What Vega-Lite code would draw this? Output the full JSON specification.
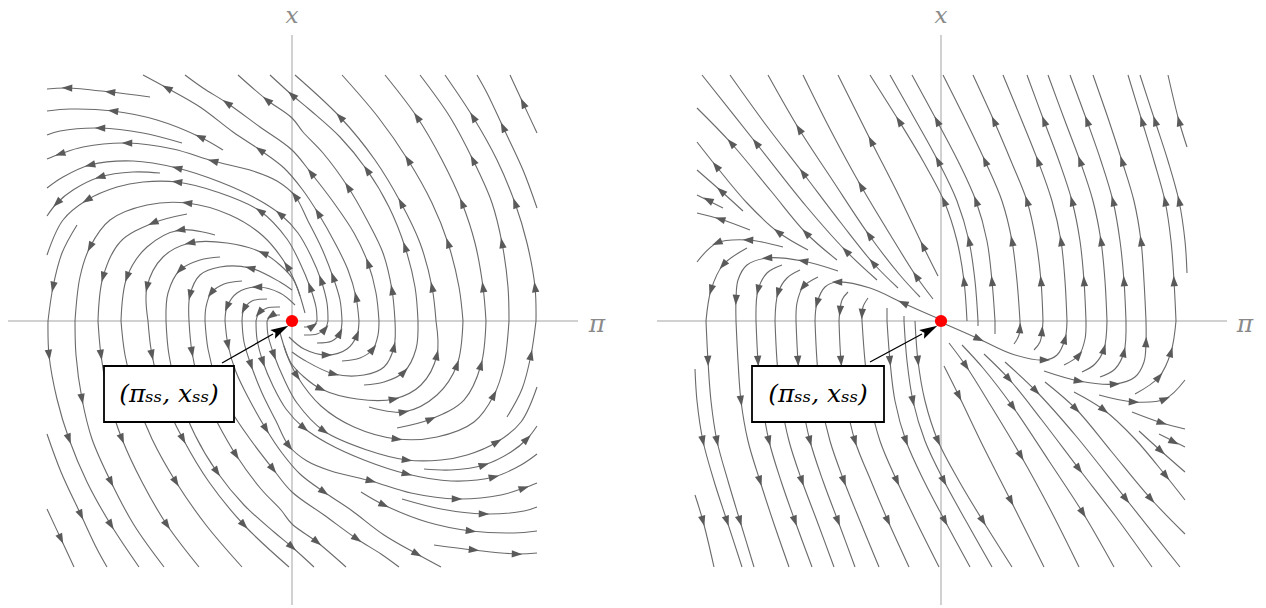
{
"$schema":"https://vega.github.io/schema/vega-lite/v6.json",
"padding":0,"spacing":0,"background":"white",
"config":{"view":{"stroke":null}},
"resolve":{"scale":{"x":"independent","y":"independent"}},
"datasets":{
"LL":[
{"c":1,"u":2.44,"v":0},{"c":1,"u":2.43,"v":0.34},{"c":1,"u":2.35,"v":0.78},{"c":1,"u":2.23,"v":1.18},{"c":1,"u":2.05,"v":1.61},{"c":1,"u":1.81,"v":2.04},{"c":1,"u":1.53,"v":2.46},
{"c":2,"u":2.17,"v":0},{"c":2,"u":2.16,"v":0.34},{"c":2,"u":2.10,"v":0.78},{"c":2,"u":2.00,"v":1.18},{"c":2,"u":1.81,"v":1.61},{"c":2,"u":1.58,"v":2.04},{"c":2,"u":1.28,"v":2.46},
{"c":3,"u":1.94,"v":0},{"c":3,"u":1.91,"v":0.34},{"c":3,"u":1.83,"v":0.78},{"c":3,"u":1.70,"v":1.18},{"c":3,"u":1.50,"v":1.61},{"c":3,"u":1.25,"v":2.04},{"c":3,"u":0.93,"v":2.46},
{"c":4,"u":1.71,"v":0},{"c":4,"u":1.67,"v":0.34},{"c":4,"u":1.56,"v":0.78},{"c":4,"u":1.40,"v":1.18},{"c":4,"u":1.16,"v":1.61},{"c":4,"u":0.86,"v":2.04},{"c":4,"u":0.50,"v":2.46},
{"c":5,"u":1.44,"v":0},{"c":5,"u":1.40,"v":0.34},{"c":5,"u":1.28,"v":0.78},{"c":5,"u":1.09,"v":1.18},{"c":5,"u":0.83,"v":1.61},{"c":5,"u":0.48,"v":2.04},{"c":5,"u":0.03,"v":2.46},
{"c":6,"u":2.45,"v":1.13},{"c":6,"u":2.31,"v":1.51},{"c":6,"u":2.11,"v":1.94},{"c":6,"u":1.95,"v":2.28},{"c":6,"u":1.85,"v":2.46},
{"c":7,"u":2.45,"v":1.88},{"c":7,"u":2.31,"v":2.18},{"c":7,"u":2.18,"v":2.46},
{"c":8,"u":1.26,"v":0},{"c":8,"u":1.23,"v":0.34},{"c":8,"u":1.13,"v":0.74},{"c":8,"u":0.97,"v":1.14},{"c":8,"u":0.75,"v":1.51},{"c":8,"u":0.48,"v":1.84},{"c":8,"u":0.18,"v":2.11},{"c":8,"u":0,"v":2.26},{"c":8,"u":-0.22,"v":2.46},
{"c":9,"u":1.03,"v":0},{"c":9,"u":1.00,"v":0.31},{"c":9,"u":0.91,"v":0.68},{"c":9,"u":0.75,"v":1.01},{"c":9,"u":0.56,"v":1.34},{"c":9,"u":0.31,"v":1.68},{"c":9,"u":0.11,"v":1.89},{"c":9,"u":0,"v":2.03},{"c":9,"u":-0.25,"v":2.21},{"c":9,"u":-0.54,"v":2.46},
{"c":10,"u":0.87,"v":0},{"c":10,"u":0.84,"v":0.28},{"c":10,"u":0.76,"v":0.58},{"c":10,"u":0.62,"v":0.88},{"c":10,"u":0.42,"v":1.18},{"c":10,"u":0.19,"v":1.48},{"c":10,"u":0,"v":1.71},{"c":10,"u":-0.32,"v":1.94},{"c":10,"u":-0.65,"v":2.18},{"c":10,"u":-0.89,"v":2.33},{"c":10,"u":-1.07,"v":2.46},
{"c":11,"u":0.67,"v":0},{"c":11,"u":0.64,"v":0.24},{"c":11,"u":0.56,"v":0.51},{"c":11,"u":0.43,"v":0.78},{"c":11,"u":0.26,"v":1.08},{"c":11,"u":0.10,"v":1.32},{"c":11,"u":-0.08,"v":1.53},{"c":11,"u":-0.32,"v":1.71},{"c":11,"u":-0.59,"v":1.89},{"c":11,"u":-0.92,"v":2.14},{"c":11,"u":-1.25,"v":2.33},{"c":11,"u":-1.49,"v":2.46},
{"c":12,"u":0.50,"v":0},{"c":12,"u":0.48,"v":0.21},{"c":12,"u":0.41,"v":0.44},{"c":12,"u":0.30,"v":0.72},{"c":12,"u":0.16,"v":1.00},{"c":12,"u":0.03,"v":1.25},{"c":12,"u":-0.15,"v":1.40},{"c":12,"u":-0.39,"v":1.50},{"c":12,"u":-0.79,"v":1.60},{"c":12,"u":-1.19,"v":1.72},{"c":12,"u":-1.65,"v":1.78},{"c":12,"u":-2.09,"v":1.74},{"c":12,"u":-2.32,"v":1.67},{"c":12,"u":-2.45,"v":1.62},
{"c":13,"u":0.36,"v":0},{"c":13,"u":0.35,"v":0.18},{"c":13,"u":0.29,"v":0.41},{"c":13,"u":0.19,"v":0.65},{"c":13,"u":0.06,"v":0.88},{"c":13,"u":-0.12,"v":1.07},{"c":13,"u":-0.35,"v":1.22},{"c":13,"u":-0.72,"v":1.39},{"c":13,"u":-1.15,"v":1.53},{"c":13,"u":-1.59,"v":1.60},{"c":13,"u":-2.02,"v":1.56},{"c":13,"u":-2.29,"v":1.44},{"c":13,"u":-2.45,"v":1.33},
{"c":14,"u":0.25,"v":0},{"c":14,"u":0.24,"v":0.14},{"c":14,"u":0.18,"v":0.34},{"c":14,"u":0.08,"v":0.58},{"c":14,"u":-0.05,"v":0.82},{"c":14,"u":-0.32,"v":1.10},{"c":14,"u":-0.75,"v":1.29},{"c":14,"u":-1.15,"v":1.39},{"c":14,"u":-1.49,"v":1.39},{"c":14,"u":-1.75,"v":1.34},{"c":14,"u":-2.05,"v":1.21},{"c":14,"u":-2.29,"v":1.01},{"c":14,"u":-2.45,"v":0.66},
{"c":15,"u":0.13,"v":0.08},{"c":15,"u":0.05,"v":0.34},{"c":15,"u":-0.05,"v":0.55},{"c":15,"u":-0.29,"v":0.85},{"c":15,"u":-0.62,"v":1.06},{"c":15,"u":-1.05,"v":1.18},{"c":15,"u":-1.45,"v":1.16},{"c":15,"u":-1.82,"v":1.01},{"c":15,"u":-2.02,"v":0.74},{"c":15,"u":-2.12,"v":0.44},{"c":15,"u":-2.17,"v":0},
{"c":16,"u":0.08,"v":0.25},{"c":16,"u":0.01,"v":0.42},{"c":16,"u":-0.12,"v":0.56},{"c":16,"u":-0.29,"v":0.68},{"c":16,"u":-0.65,"v":0.78},{"c":16,"u":-1.02,"v":0.78},{"c":16,"u":-1.29,"v":0.64},{"c":16,"u":-1.45,"v":0.34},{"c":16,"u":-1.44,"v":0},
{"c":17,"u":0,"v":0.31},{"c":17,"u":-0.12,"v":0.39},{"c":17,"u":-0.42,"v":0.53},{"c":17,"u":-0.72,"v":0.54},{"c":17,"u":-0.92,"v":0.46},{"c":17,"u":-1.02,"v":0.26},{"c":17,"u":-1.03,"v":0},
{"c":18,"u":-1.42,"v":2.24},{"c":18,"u":-1.82,"v":2.29},{"c":18,"u":-2.25,"v":2.33},{"c":18,"u":-2.45,"v":2.32},
{"c":19,"u":-0.69,"v":1.71},{"c":19,"u":-0.92,"v":1.84},{"c":19,"u":-1.35,"v":2.01},{"c":19,"u":-1.79,"v":2.10},{"c":19,"u":-2.22,"v":2.12},{"c":19,"u":-2.45,"v":2.10},
{"c":20,"u":-1.10,"v":1.78},{"c":20,"u":-1.49,"v":1.88},{"c":20,"u":-1.92,"v":1.93},{"c":20,"u":-2.32,"v":1.90},{"c":20,"u":-2.45,"v":1.86},
{"c":21,"u":-1.32,"v":1.48},{"c":21,"u":-1.59,"v":1.49},{"c":21,"u":-1.92,"v":1.44},{"c":21,"u":-2.19,"v":1.31},{"c":21,"u":-2.35,"v":1.18},{"c":21,"u":-2.45,"v":1.05},
{"c":22,"u":-2.15,"v":0.96},{"c":22,"u":-2.30,"v":0.68},{"c":22,"u":-2.39,"v":0.34},{"c":22,"u":-2.44,"v":0},
{"c":23,"u":-1.05,"v":1.07},{"c":23,"u":-1.39,"v":0.98},{"c":23,"u":-1.72,"v":0.79},{"c":23,"u":-1.89,"v":0.44},{"c":23,"u":-1.94,"v":0},
{"c":24,"u":-0.77,"v":0.86},{"c":24,"u":-1.12,"v":0.91},{"c":24,"u":-1.45,"v":0.74},{"c":24,"u":-1.65,"v":0.44},{"c":24,"u":-1.71,"v":0},
{"c":25,"u":-0.72,"v":0.64},{"c":25,"u":-0.92,"v":0.61},{"c":25,"u":-1.12,"v":0.51},{"c":25,"u":-1.24,"v":0.28},{"c":25,"u":-1.26,"v":0},
{"c":26,"u":-0.50,"v":0.40},{"c":26,"u":-0.68,"v":0.37},{"c":26,"u":-0.81,"v":0.28},{"c":26,"u":-0.86,"v":0.14},{"c":26,"u":-0.87,"v":0},
{"c":27,"u":0.03,"v":0.16},{"c":27,"u":-0.12,"v":0.28},{"c":27,"u":-0.35,"v":0.34},{"c":27,"u":-0.55,"v":0.28},{"c":27,"u":-0.65,"v":0.14},{"c":27,"u":-0.67,"v":0},
{"c":28,"u":-0.25,"v":0.22},{"c":28,"u":-0.40,"v":0.20},{"c":28,"u":-0.48,"v":0.12},{"c":28,"u":-0.50,"v":0},
{"c":29,"u":-0.12,"v":0.14},{"c":29,"u":-0.25,"v":0.13},{"c":29,"u":-0.33,"v":0.08},{"c":29,"u":-0.36,"v":0},
{"c":30,"u":-0.12,"v":0.06},{"c":30,"u":-0.21,"v":0.05},{"c":30,"u":-0.25,"v":0},
{"c":101,"u":-2.44,"v":0},{"c":101,"u":-2.43,"v":-0.34},{"c":101,"u":-2.35,"v":-0.78},{"c":101,"u":-2.23,"v":-1.18},{"c":101,"u":-2.05,"v":-1.61},{"c":101,"u":-1.81,"v":-2.04},{"c":101,"u":-1.53,"v":-2.46},
{"c":102,"u":-2.17,"v":0},{"c":102,"u":-2.16,"v":-0.34},{"c":102,"u":-2.10,"v":-0.78},{"c":102,"u":-2.00,"v":-1.18},{"c":102,"u":-1.81,"v":-1.61},{"c":102,"u":-1.58,"v":-2.04},{"c":102,"u":-1.28,"v":-2.46},
{"c":103,"u":-1.94,"v":0},{"c":103,"u":-1.91,"v":-0.34},{"c":103,"u":-1.83,"v":-0.78},{"c":103,"u":-1.70,"v":-1.18},{"c":103,"u":-1.50,"v":-1.61},{"c":103,"u":-1.25,"v":-2.04},{"c":103,"u":-0.93,"v":-2.46},
{"c":104,"u":-1.71,"v":0},{"c":104,"u":-1.67,"v":-0.34},{"c":104,"u":-1.56,"v":-0.78},{"c":104,"u":-1.40,"v":-1.18},{"c":104,"u":-1.16,"v":-1.61},{"c":104,"u":-0.86,"v":-2.04},{"c":104,"u":-0.50,"v":-2.46},
{"c":105,"u":-1.44,"v":0},{"c":105,"u":-1.40,"v":-0.34},{"c":105,"u":-1.28,"v":-0.78},{"c":105,"u":-1.09,"v":-1.18},{"c":105,"u":-0.83,"v":-1.61},{"c":105,"u":-0.48,"v":-2.04},{"c":105,"u":-0.03,"v":-2.46},
{"c":106,"u":-2.45,"v":-1.13},{"c":106,"u":-2.31,"v":-1.51},{"c":106,"u":-2.11,"v":-1.94},{"c":106,"u":-1.95,"v":-2.28},{"c":106,"u":-1.85,"v":-2.46},
{"c":107,"u":-2.45,"v":-1.88},{"c":107,"u":-2.31,"v":-2.18},{"c":107,"u":-2.18,"v":-2.46},
{"c":108,"u":-1.26,"v":0},{"c":108,"u":-1.23,"v":-0.34},{"c":108,"u":-1.13,"v":-0.74},{"c":108,"u":-0.97,"v":-1.14},{"c":108,"u":-0.75,"v":-1.51},{"c":108,"u":-0.48,"v":-1.84},{"c":108,"u":-0.18,"v":-2.11},{"c":108,"u":0,"v":-2.26},{"c":108,"u":0.22,"v":-2.46},
{"c":109,"u":-1.03,"v":0},{"c":109,"u":-1.00,"v":-0.31},{"c":109,"u":-0.91,"v":-0.68},{"c":109,"u":-0.75,"v":-1.01},{"c":109,"u":-0.56,"v":-1.34},{"c":109,"u":-0.31,"v":-1.68},{"c":109,"u":-0.11,"v":-1.89},{"c":109,"u":0,"v":-2.03},{"c":109,"u":0.25,"v":-2.21},{"c":109,"u":0.54,"v":-2.46},
{"c":110,"u":-0.87,"v":0},{"c":110,"u":-0.84,"v":-0.28},{"c":110,"u":-0.76,"v":-0.58},{"c":110,"u":-0.62,"v":-0.88},{"c":110,"u":-0.42,"v":-1.18},{"c":110,"u":-0.19,"v":-1.48},{"c":110,"u":0,"v":-1.71},{"c":110,"u":0.32,"v":-1.94},{"c":110,"u":0.65,"v":-2.18},{"c":110,"u":0.89,"v":-2.33},{"c":110,"u":1.07,"v":-2.46},
{"c":111,"u":-0.67,"v":0},{"c":111,"u":-0.64,"v":-0.24},{"c":111,"u":-0.56,"v":-0.51},{"c":111,"u":-0.43,"v":-0.78},{"c":111,"u":-0.26,"v":-1.08},{"c":111,"u":-0.10,"v":-1.32},{"c":111,"u":0.08,"v":-1.53},{"c":111,"u":0.32,"v":-1.71},{"c":111,"u":0.59,"v":-1.89},{"c":111,"u":0.92,"v":-2.14},{"c":111,"u":1.25,"v":-2.33},{"c":111,"u":1.49,"v":-2.46},
{"c":112,"u":-0.50,"v":0},{"c":112,"u":-0.48,"v":-0.21},{"c":112,"u":-0.41,"v":-0.44},{"c":112,"u":-0.30,"v":-0.72},{"c":112,"u":-0.16,"v":-1.00},{"c":112,"u":-0.03,"v":-1.25},{"c":112,"u":0.15,"v":-1.40},{"c":112,"u":0.39,"v":-1.50},{"c":112,"u":0.79,"v":-1.60},{"c":112,"u":1.19,"v":-1.72},{"c":112,"u":1.65,"v":-1.78},{"c":112,"u":2.09,"v":-1.74},{"c":112,"u":2.32,"v":-1.67},{"c":112,"u":2.45,"v":-1.62},
{"c":113,"u":-0.36,"v":0},{"c":113,"u":-0.35,"v":-0.18},{"c":113,"u":-0.29,"v":-0.41},{"c":113,"u":-0.19,"v":-0.65},{"c":113,"u":-0.06,"v":-0.88},{"c":113,"u":0.12,"v":-1.07},{"c":113,"u":0.35,"v":-1.22},{"c":113,"u":0.72,"v":-1.39},{"c":113,"u":1.15,"v":-1.53},{"c":113,"u":1.59,"v":-1.60},{"c":113,"u":2.02,"v":-1.56},{"c":113,"u":2.29,"v":-1.44},{"c":113,"u":2.45,"v":-1.33},
{"c":114,"u":-0.25,"v":0},{"c":114,"u":-0.24,"v":-0.14},{"c":114,"u":-0.18,"v":-0.34},{"c":114,"u":-0.08,"v":-0.58},{"c":114,"u":0.05,"v":-0.82},{"c":114,"u":0.32,"v":-1.10},{"c":114,"u":0.75,"v":-1.29},{"c":114,"u":1.15,"v":-1.39},{"c":114,"u":1.49,"v":-1.39},{"c":114,"u":1.75,"v":-1.34},{"c":114,"u":2.05,"v":-1.21},{"c":114,"u":2.29,"v":-1.01},{"c":114,"u":2.45,"v":-0.66},
{"c":115,"u":-0.13,"v":-0.08},{"c":115,"u":-0.05,"v":-0.34},{"c":115,"u":0.05,"v":-0.55},{"c":115,"u":0.29,"v":-0.85},{"c":115,"u":0.62,"v":-1.06},{"c":115,"u":1.05,"v":-1.18},{"c":115,"u":1.45,"v":-1.16},{"c":115,"u":1.82,"v":-1.01},{"c":115,"u":2.02,"v":-0.74},{"c":115,"u":2.12,"v":-0.44},{"c":115,"u":2.17,"v":0},
{"c":116,"u":-0.08,"v":-0.25},{"c":116,"u":-0.01,"v":-0.42},{"c":116,"u":0.12,"v":-0.56},{"c":116,"u":0.29,"v":-0.68},{"c":116,"u":0.65,"v":-0.78},{"c":116,"u":1.02,"v":-0.78},{"c":116,"u":1.29,"v":-0.64},{"c":116,"u":1.45,"v":-0.34},{"c":116,"u":1.44,"v":0},
{"c":117,"u":0,"v":-0.31},{"c":117,"u":0.12,"v":-0.39},{"c":117,"u":0.42,"v":-0.53},{"c":117,"u":0.72,"v":-0.54},{"c":117,"u":0.92,"v":-0.46},{"c":117,"u":1.02,"v":-0.26},{"c":117,"u":1.03,"v":0},
{"c":118,"u":1.42,"v":-2.24},{"c":118,"u":1.82,"v":-2.29},{"c":118,"u":2.25,"v":-2.33},{"c":118,"u":2.45,"v":-2.32},
{"c":119,"u":0.69,"v":-1.71},{"c":119,"u":0.92,"v":-1.84},{"c":119,"u":1.35,"v":-2.01},{"c":119,"u":1.79,"v":-2.10},{"c":119,"u":2.22,"v":-2.12},{"c":119,"u":2.45,"v":-2.10},
{"c":120,"u":1.10,"v":-1.78},{"c":120,"u":1.49,"v":-1.88},{"c":120,"u":1.92,"v":-1.93},{"c":120,"u":2.32,"v":-1.90},{"c":120,"u":2.45,"v":-1.86},
{"c":121,"u":1.32,"v":-1.48},{"c":121,"u":1.59,"v":-1.49},{"c":121,"u":1.92,"v":-1.44},{"c":121,"u":2.19,"v":-1.31},{"c":121,"u":2.35,"v":-1.18},{"c":121,"u":2.45,"v":-1.05},
{"c":122,"u":2.15,"v":-0.96},{"c":122,"u":2.30,"v":-0.68},{"c":122,"u":2.39,"v":-0.34},{"c":122,"u":2.44,"v":0},
{"c":123,"u":1.05,"v":-1.07},{"c":123,"u":1.39,"v":-0.98},{"c":123,"u":1.72,"v":-0.79},{"c":123,"u":1.89,"v":-0.44},{"c":123,"u":1.94,"v":0},
{"c":124,"u":0.77,"v":-0.86},{"c":124,"u":1.12,"v":-0.91},{"c":124,"u":1.45,"v":-0.74},{"c":124,"u":1.65,"v":-0.44},{"c":124,"u":1.71,"v":0},
{"c":125,"u":0.72,"v":-0.64},{"c":125,"u":0.92,"v":-0.61},{"c":125,"u":1.12,"v":-0.51},{"c":125,"u":1.24,"v":-0.28},{"c":125,"u":1.26,"v":0},
{"c":126,"u":0.50,"v":-0.40},{"c":126,"u":0.68,"v":-0.37},{"c":126,"u":0.81,"v":-0.28},{"c":126,"u":0.86,"v":-0.14},{"c":126,"u":0.87,"v":0},
{"c":127,"u":-0.03,"v":-0.16},{"c":127,"u":0.12,"v":-0.28},{"c":127,"u":0.35,"v":-0.34},{"c":127,"u":0.55,"v":-0.28},{"c":127,"u":0.65,"v":-0.14},{"c":127,"u":0.67,"v":0},
{"c":128,"u":0.25,"v":-0.22},{"c":128,"u":0.40,"v":-0.20},{"c":128,"u":0.48,"v":-0.12},{"c":128,"u":0.50,"v":0},
{"c":129,"u":0.12,"v":-0.14},{"c":129,"u":0.25,"v":-0.13},{"c":129,"u":0.33,"v":-0.08},{"c":129,"u":0.36,"v":0},
{"c":130,"u":0.12,"v":-0.06},{"c":130,"u":0.21,"v":-0.05},{"c":130,"u":0.25,"v":0}
],
"LA":[
{"u":2.43,"v":0.34,"a":-7},{"u":2.23,"v":1.18,"a":-20},{"u":1.81,"v":2.04,"a":-31},
{"u":2.10,"v":0.78,"a":-11},{"u":1.81,"v":1.61,"a":-26},
{"u":1.91,"v":0.34,"a":-8},{"u":1.70,"v":1.18,"a":-22},{"u":1.25,"v":2.04,"a":-34},
{"u":1.56,"v":0.78,"a":-18},{"u":1.16,"v":1.61,"a":-32},
{"u":1.40,"v":0.34,"a":-12},{"u":1.09,"v":1.18,"a":-28},{"u":0.48,"v":2.04,"a":-43},
{"u":2.11,"v":1.94,"a":-25},{"u":2.31,"v":2.18,"a":-25},
{"u":1.13,"v":0.74,"a":-18},{"u":0.75,"v":1.51,"a":-35},{"u":0,"v":2.26,"a":-49},
{"u":1.00,"v":0.31,"a":-10},{"u":0.56,"v":1.34,"a":-33},{"u":-0.25,"v":2.21,"a":-51},
{"u":0.76,"v":0.58,"a":-20},{"u":0.19,"v":1.48,"a":-38},{"u":-0.65,"v":2.18,"a":-56},
{"u":0.64,"v":0.24,"a":-12},{"u":0.26,"v":1.08,"a":-31},{"u":-0.32,"v":1.71,"a":-55},{"u":-1.25,"v":2.33,"a":-61},
{"u":0.41,"v":0.44,"a":-19},{"u":0.03,"v":1.25,"a":-38},{"u":-0.79,"v":1.60,"a":-75},{"u":-1.65,"v":1.78,"a":-89},{"u":-2.32,"v":1.67,"a":-108},
{"u":0.29,"v":0.41,"a":-19},{"u":-0.12,"v":1.07,"a":-50},{"u":-1.15,"v":1.53,"a":-76},{"u":-2.02,"v":1.56,"a":-103},
{"u":0.18,"v":0.34,"a":-20},{"u":-0.32,"v":1.10,"a":-56},{"u":-1.15,"v":1.39,"a":-82},{"u":-2.05,"v":1.21,"a":-121},
{"u":-0.05,"v":0.55,"a":-34},{"u":-1.05,"v":1.18,"a":-83},{"u":-2.02,"v":0.74,"a":-152},
{"u":-0.29,"v":0.68,"a":-67},{"u":-1.02,"v":0.78,"a":-102},{"u":-1.45,"v":0.34,"a":-167},
{"u":-0.42,"v":0.53,"a":-76},{"u":-1.02,"v":0.26,"a":-167},
{"u":-1.82,"v":2.29,"a":-84},{"u":-2.25,"v":2.33,"a":-88},
{"u":-0.92,"v":1.84,"a":-66},{"u":-1.79,"v":2.10,"a":-83},
{"u":-1.92,"v":1.93,"a":-89},
{"u":-1.92,"v":1.44,"a":-107},{"u":-2.35,"v":1.18,"a":-135},
{"u":-2.39,"v":0.34,"a":-168},
{"u":-1.39,"v":0.98,"a":-113},{"u":-1.89,"v":0.44,"a":-164},
{"u":-1.12,"v":0.91,"a":-100},{"u":-1.65,"v":0.44,"a":-161},
{"u":-1.12,"v":0.51,"a":-136},{"u":-0.81,"v":0.28,"a":-142},
{"u":-0.35,"v":0.34,"a":-90},{"u":-0.65,"v":0.14,"a":-157},
{"u":-0.48,"v":0.12,"a":-153},{"u":-0.33,"v":0.08,"a":-140},{"u":-0.21,"v":0.05,"a":-125},
{"u":-2.43,"v":-0.34,"a":173},{"u":-2.23,"v":-1.18,"a":160},{"u":-1.81,"v":-2.04,"a":149},
{"u":-2.10,"v":-0.78,"a":169},{"u":-1.81,"v":-1.61,"a":154},
{"u":-1.91,"v":-0.34,"a":172},{"u":-1.70,"v":-1.18,"a":158},{"u":-1.25,"v":-2.04,"a":146},
{"u":-1.56,"v":-0.78,"a":162},{"u":-1.16,"v":-1.61,"a":148},
{"u":-1.40,"v":-0.34,"a":168},{"u":-1.09,"v":-1.18,"a":152},{"u":-0.48,"v":-2.04,"a":137},
{"u":-2.11,"v":-1.94,"a":155},{"u":-2.31,"v":-2.18,"a":155},
{"u":-1.13,"v":-0.74,"a":162},{"u":-0.75,"v":-1.51,"a":145},{"u":0,"v":-2.26,"a":131},
{"u":-1.00,"v":-0.31,"a":170},{"u":-0.56,"v":-1.34,"a":147},{"u":0.25,"v":-2.21,"a":129},
{"u":-0.76,"v":-0.58,"a":160},{"u":-0.19,"v":-1.48,"a":142},{"u":0.65,"v":-2.18,"a":124},
{"u":-0.64,"v":-0.24,"a":168},{"u":-0.26,"v":-1.08,"a":149},{"u":0.32,"v":-1.71,"a":125},{"u":1.25,"v":-2.33,"a":119},
{"u":-0.41,"v":-0.44,"a":161},{"u":-0.03,"v":-1.25,"a":142},{"u":0.79,"v":-1.60,"a":105},{"u":1.65,"v":-1.78,"a":91},{"u":2.32,"v":-1.67,"a":72},
{"u":-0.29,"v":-0.41,"a":161},{"u":0.12,"v":-1.07,"a":130},{"u":1.15,"v":-1.53,"a":104},{"u":2.02,"v":-1.56,"a":77},
{"u":-0.18,"v":-0.34,"a":160},{"u":0.32,"v":-1.10,"a":124},{"u":1.15,"v":-1.39,"a":98},{"u":2.05,"v":-1.21,"a":59},
{"u":0.05,"v":-0.55,"a":146},{"u":1.05,"v":-1.18,"a":97},{"u":2.02,"v":-0.74,"a":28},
{"u":0.29,"v":-0.68,"a":113},{"u":1.02,"v":-0.78,"a":78},{"u":1.45,"v":-0.34,"a":13},
{"u":0.42,"v":-0.53,"a":104},{"u":1.02,"v":-0.26,"a":13},
{"u":1.82,"v":-2.29,"a":96},{"u":2.25,"v":-2.33,"a":92},
{"u":0.92,"v":-1.84,"a":114},{"u":1.79,"v":-2.10,"a":97},
{"u":1.92,"v":-1.93,"a":91},
{"u":1.92,"v":-1.44,"a":73},{"u":2.35,"v":-1.18,"a":45},
{"u":2.39,"v":-0.34,"a":12},
{"u":1.39,"v":-0.98,"a":67},{"u":1.89,"v":-0.44,"a":16},
{"u":1.12,"v":-0.91,"a":80},{"u":1.65,"v":-0.44,"a":19},
{"u":1.12,"v":-0.51,"a":44},{"u":0.81,"v":-0.28,"a":38},
{"u":0.35,"v":-0.34,"a":90},{"u":0.65,"v":-0.14,"a":23},
{"u":0.48,"v":-0.12,"a":27},{"u":0.33,"v":-0.08,"a":40},{"u":0.21,"v":-0.05,"a":55}
],
"RL":[
{"c":1,"u":2.35,"v":0},{"c":1,"u":2.33,"v":0.4},{"c":1,"u":2.30,"v":0.8},{"c":1,"u":2.24,"v":1.2},{"c":1,"u":2.13,"v":1.6},{"c":1,"u":2.01,"v":2.0},{"c":1,"u":1.87,"v":2.46},
{"c":2,"u":2.05,"v":0},{"c":2,"u":2.03,"v":0.4},{"c":2,"u":2.00,"v":0.8},{"c":2,"u":1.93,"v":1.2},{"c":2,"u":1.81,"v":1.6},{"c":2,"u":1.68,"v":2.0},{"c":2,"u":1.52,"v":2.46},
{"c":3,"u":1.85,"v":0},{"c":3,"u":1.83,"v":0.4},{"c":3,"u":1.79,"v":0.8},{"c":3,"u":1.72,"v":1.2},{"c":3,"u":1.60,"v":1.6},{"c":3,"u":1.46,"v":2.0},{"c":3,"u":1.29,"v":2.46},
{"c":4,"u":1.66,"v":0},{"c":4,"u":1.64,"v":0.4},{"c":4,"u":1.60,"v":0.8},{"c":4,"u":1.52,"v":1.2},{"c":4,"u":1.39,"v":1.6},{"c":4,"u":1.24,"v":2.0},{"c":4,"u":1.07,"v":2.46},
{"c":5,"u":1.45,"v":0},{"c":5,"u":1.43,"v":0.4},{"c":5,"u":1.39,"v":0.8},{"c":5,"u":1.31,"v":1.2},{"c":5,"u":1.18,"v":1.6},{"c":5,"u":1.03,"v":2.0},{"c":5,"u":0.86,"v":2.46},
{"c":6,"u":1.26,"v":0},{"c":6,"u":1.24,"v":0.4},{"c":6,"u":1.20,"v":0.8},{"c":6,"u":1.11,"v":1.2},{"c":6,"u":0.97,"v":1.6},{"c":6,"u":0.81,"v":2.0},{"c":6,"u":0.62,"v":2.46},
{"c":7,"u":1.02,"v":0},{"c":7,"u":1.00,"v":0.4},{"c":7,"u":0.95,"v":0.8},{"c":7,"u":0.86,"v":1.2},{"c":7,"u":0.70,"v":1.6},{"c":7,"u":0.53,"v":2.0},{"c":7,"u":0.32,"v":2.46},
{"c":8,"u":0.79,"v":0},{"c":8,"u":0.76,"v":0.4},{"c":8,"u":0.71,"v":0.8},{"c":8,"u":0.61,"v":1.2},{"c":8,"u":0.44,"v":1.6},{"c":8,"u":0.25,"v":2.0},{"c":8,"u":0.02,"v":2.46},
{"c":9,"u":0.54,"v":0},{"c":9,"u":0.51,"v":0.4},{"c":9,"u":0.46,"v":0.8},{"c":9,"u":0.35,"v":1.2},{"c":9,"u":0.17,"v":1.6},{"c":9,"u":-0.04,"v":2.0},{"c":9,"u":-0.29,"v":2.46},
{"c":10,"u":0.37,"v":0},{"c":10,"u":0.34,"v":0.4},{"c":10,"u":0.28,"v":0.8},{"c":10,"u":0.16,"v":1.2},{"c":10,"u":-0.03,"v":1.6},{"c":10,"u":-0.25,"v":2.0},{"c":10,"u":-0.51,"v":2.46},
{"c":11,"u":0.26,"v":0},{"c":11,"u":0.23,"v":0.4},{"c":11,"u":0.16,"v":0.8},{"c":11,"u":0.03,"v":1.2},{"c":11,"u":-0.18,"v":1.6},{"c":11,"u":-0.42,"v":2.0},{"c":11,"u":-0.71,"v":2.46},
{"c":12,"u":2.46,"v":0.48},{"c":12,"u":2.44,"v":0.8},{"c":12,"u":2.38,"v":1.2},{"c":12,"u":2.27,"v":1.6},{"c":12,"u":2.14,"v":2.0},{"c":12,"u":1.99,"v":2.46},
{"c":13,"u":2.46,"v":1.74},{"c":13,"u":2.38,"v":2.0},{"c":13,"u":2.27,"v":2.46},
{"c":14,"u":-1.58,"v":0.74},{"c":14,"u":-1.93,"v":0.81},{"c":14,"u":-2.24,"v":0.78},{"c":14,"u":-2.44,"v":0.59},
{"c":15,"u":-1.94,"v":0.73},{"c":15,"u":-2.18,"v":0.56},{"c":15,"u":-2.30,"v":0.31},{"c":15,"u":-2.35,"v":0},
{"c":16,"u":-1.03,"v":0.50},{"c":16,"u":-1.38,"v":0.60},{"c":16,"u":-1.74,"v":0.63},{"c":16,"u":-1.94,"v":0.56},{"c":16,"u":-2.03,"v":0.41},{"c":16,"u":-2.05,"v":0.21},{"c":16,"u":-2.05,"v":0},
{"c":17,"u":-1.59,"v":0.56},{"c":17,"u":-1.74,"v":0.48},{"c":17,"u":-1.83,"v":0.31},{"c":17,"u":-1.85,"v":0},
{"c":18,"u":-1.41,"v":0.51},{"c":18,"u":-1.54,"v":0.43},{"c":18,"u":-1.63,"v":0.28},{"c":18,"u":-1.66,"v":0},
{"c":19,"u":-1.23,"v":0.44},{"c":19,"u":-1.38,"v":0.34},{"c":19,"u":-1.44,"v":0.18},{"c":19,"u":-1.45,"v":0},
{"c":20,"u":-0.04,"v":0.03},{"c":20,"u":-0.38,"v":0.18},{"c":20,"u":-0.71,"v":0.33},{"c":20,"u":-1.04,"v":0.39},{"c":20,"u":-1.16,"v":0.34},{"c":20,"u":-1.24,"v":0.18},{"c":20,"u":-1.26,"v":0},
{"c":21,"u":-0.93,"v":0.29},{"c":21,"u":-0.99,"v":0.21},{"c":21,"u":-1.02,"v":0},
{"c":22,"u":-0.73,"v":0.23},{"c":22,"u":-0.78,"v":0.14},{"c":22,"u":-0.79,"v":0},
{"c":23,"u":-0.54,"v":0.13},{"c":23,"u":-0.54,"v":0},
{"c":24,"u":-0.37,"v":0.05},{"c":24,"u":-0.37,"v":0},
{"c":25,"u":-2.18,"v":1.13},{"c":25,"u":-2.44,"v":1.26},
{"c":26,"u":-1.91,"v":0.91},{"c":26,"u":-2.21,"v":1.02},{"c":26,"u":-2.44,"v":1.08},
{"c":27,"u":-1.98,"v":1.10},{"c":27,"u":-2.20,"v":1.30},{"c":27,"u":-2.44,"v":1.51},
{"c":28,"u":-1.33,"v":0.71},{"c":28,"u":-1.63,"v":0.89},{"c":28,"u":-1.94,"v":1.18},{"c":28,"u":-2.25,"v":1.55},{"c":28,"u":-2.44,"v":1.79},
{"c":29,"u":-1.04,"v":0.61},{"c":29,"u":-1.35,"v":0.88},{"c":29,"u":-1.70,"v":1.30},{"c":29,"u":-2.10,"v":1.78},{"c":29,"u":-2.44,"v":2.13},
{"c":30,"u":-0.64,"v":0.41},{"c":30,"u":-0.95,"v":0.70},{"c":30,"u":-1.35,"v":1.15},{"c":30,"u":-1.85,"v":1.78},{"c":30,"u":-2.39,"v":2.46},
{"c":31,"u":-0.43,"v":0.33},{"c":31,"u":-0.68,"v":0.58},{"c":31,"u":-1.00,"v":0.98},{"c":31,"u":-1.38,"v":1.48},{"c":31,"u":-1.75,"v":1.96},{"c":31,"u":-2.11,"v":2.46},
{"c":32,"u":-0.21,"v":0.24},{"c":32,"u":-0.42,"v":0.47},{"c":32,"u":-0.72,"v":0.86},{"c":32,"u":-1.08,"v":1.40},{"c":32,"u":-1.42,"v":1.92},{"c":32,"u":-1.73,"v":2.46},
{"c":33,"u":-0.08,"v":0.22},{"c":33,"u":-0.25,"v":0.45},{"c":33,"u":-0.50,"v":0.85},{"c":33,"u":-0.80,"v":1.35},{"c":33,"u":-1.10,"v":1.90},{"c":33,"u":-1.38,"v":2.46},
{"c":34,"u":-0.03,"v":0.45},{"c":34,"u":-0.18,"v":0.75},{"c":34,"u":-0.42,"v":1.25},{"c":34,"u":-0.70,"v":1.80},{"c":34,"u":-1.03,"v":2.46},
{"c":101,"u":-2.35,"v":0},{"c":101,"u":-2.33,"v":-0.4},{"c":101,"u":-2.30,"v":-0.8},{"c":101,"u":-2.24,"v":-1.2},{"c":101,"u":-2.13,"v":-1.6},{"c":101,"u":-2.01,"v":-2.0},{"c":101,"u":-1.87,"v":-2.46},
{"c":102,"u":-2.05,"v":0},{"c":102,"u":-2.03,"v":-0.4},{"c":102,"u":-2.00,"v":-0.8},{"c":102,"u":-1.93,"v":-1.2},{"c":102,"u":-1.81,"v":-1.6},{"c":102,"u":-1.68,"v":-2.0},{"c":102,"u":-1.52,"v":-2.46},
{"c":103,"u":-1.85,"v":0},{"c":103,"u":-1.83,"v":-0.4},{"c":103,"u":-1.79,"v":-0.8},{"c":103,"u":-1.72,"v":-1.2},{"c":103,"u":-1.60,"v":-1.6},{"c":103,"u":-1.46,"v":-2.0},{"c":103,"u":-1.29,"v":-2.46},
{"c":104,"u":-1.66,"v":0},{"c":104,"u":-1.64,"v":-0.4},{"c":104,"u":-1.60,"v":-0.8},{"c":104,"u":-1.52,"v":-1.2},{"c":104,"u":-1.39,"v":-1.6},{"c":104,"u":-1.24,"v":-2.0},{"c":104,"u":-1.07,"v":-2.46},
{"c":105,"u":-1.45,"v":0},{"c":105,"u":-1.43,"v":-0.4},{"c":105,"u":-1.39,"v":-0.8},{"c":105,"u":-1.31,"v":-1.2},{"c":105,"u":-1.18,"v":-1.6},{"c":105,"u":-1.03,"v":-2.0},{"c":105,"u":-0.86,"v":-2.46},
{"c":106,"u":-1.26,"v":0},{"c":106,"u":-1.24,"v":-0.4},{"c":106,"u":-1.20,"v":-0.8},{"c":106,"u":-1.11,"v":-1.2},{"c":106,"u":-0.97,"v":-1.6},{"c":106,"u":-0.81,"v":-2.0},{"c":106,"u":-0.62,"v":-2.46},
{"c":107,"u":-1.02,"v":0},{"c":107,"u":-1.00,"v":-0.4},{"c":107,"u":-0.95,"v":-0.8},{"c":107,"u":-0.86,"v":-1.2},{"c":107,"u":-0.70,"v":-1.6},{"c":107,"u":-0.53,"v":-2.0},{"c":107,"u":-0.32,"v":-2.46},
{"c":108,"u":-0.79,"v":0},{"c":108,"u":-0.76,"v":-0.4},{"c":108,"u":-0.71,"v":-0.8},{"c":108,"u":-0.61,"v":-1.2},{"c":108,"u":-0.44,"v":-1.6},{"c":108,"u":-0.25,"v":-2.0},{"c":108,"u":-0.02,"v":-2.46},
{"c":109,"u":-0.54,"v":0},{"c":109,"u":-0.51,"v":-0.4},{"c":109,"u":-0.46,"v":-0.8},{"c":109,"u":-0.35,"v":-1.2},{"c":109,"u":-0.17,"v":-1.6},{"c":109,"u":0.04,"v":-2.0},{"c":109,"u":0.29,"v":-2.46},
{"c":110,"u":-0.37,"v":0},{"c":110,"u":-0.34,"v":-0.4},{"c":110,"u":-0.28,"v":-0.8},{"c":110,"u":-0.16,"v":-1.2},{"c":110,"u":0.03,"v":-1.6},{"c":110,"u":0.25,"v":-2.0},{"c":110,"u":0.51,"v":-2.46},
{"c":111,"u":-0.26,"v":0},{"c":111,"u":-0.23,"v":-0.4},{"c":111,"u":-0.16,"v":-0.8},{"c":111,"u":-0.03,"v":-1.2},{"c":111,"u":0.18,"v":-1.6},{"c":111,"u":0.42,"v":-2.0},{"c":111,"u":0.71,"v":-2.46},
{"c":112,"u":-2.46,"v":-0.48},{"c":112,"u":-2.44,"v":-0.8},{"c":112,"u":-2.38,"v":-1.2},{"c":112,"u":-2.27,"v":-1.6},{"c":112,"u":-2.14,"v":-2.0},{"c":112,"u":-1.99,"v":-2.46},
{"c":113,"u":-2.46,"v":-1.74},{"c":113,"u":-2.38,"v":-2.0},{"c":113,"u":-2.27,"v":-2.46},
{"c":114,"u":1.58,"v":-0.74},{"c":114,"u":1.93,"v":-0.81},{"c":114,"u":2.24,"v":-0.78},{"c":114,"u":2.44,"v":-0.59},
{"c":115,"u":1.94,"v":-0.73},{"c":115,"u":2.18,"v":-0.56},{"c":115,"u":2.30,"v":-0.31},{"c":115,"u":2.35,"v":0},
{"c":116,"u":1.03,"v":-0.50},{"c":116,"u":1.38,"v":-0.60},{"c":116,"u":1.74,"v":-0.63},{"c":116,"u":1.94,"v":-0.56},{"c":116,"u":2.03,"v":-0.41},{"c":116,"u":2.05,"v":-0.21},{"c":116,"u":2.05,"v":0},
{"c":117,"u":1.59,"v":-0.56},{"c":117,"u":1.74,"v":-0.48},{"c":117,"u":1.83,"v":-0.31},{"c":117,"u":1.85,"v":0},
{"c":118,"u":1.41,"v":-0.51},{"c":118,"u":1.54,"v":-0.43},{"c":118,"u":1.63,"v":-0.28},{"c":118,"u":1.66,"v":0},
{"c":119,"u":1.23,"v":-0.44},{"c":119,"u":1.38,"v":-0.34},{"c":119,"u":1.44,"v":-0.18},{"c":119,"u":1.45,"v":0},
{"c":120,"u":0.04,"v":-0.03},{"c":120,"u":0.38,"v":-0.18},{"c":120,"u":0.71,"v":-0.33},{"c":120,"u":1.04,"v":-0.39},{"c":120,"u":1.16,"v":-0.34},{"c":120,"u":1.24,"v":-0.18},{"c":120,"u":1.26,"v":0},
{"c":121,"u":0.93,"v":-0.29},{"c":121,"u":0.99,"v":-0.21},{"c":121,"u":1.02,"v":0},
{"c":122,"u":0.73,"v":-0.23},{"c":122,"u":0.78,"v":-0.14},{"c":122,"u":0.79,"v":0},
{"c":123,"u":0.54,"v":-0.13},{"c":123,"u":0.54,"v":0},
{"c":124,"u":0.37,"v":-0.05},{"c":124,"u":0.37,"v":0},
{"c":125,"u":2.18,"v":-1.13},{"c":125,"u":2.44,"v":-1.26},
{"c":126,"u":1.91,"v":-0.91},{"c":126,"u":2.21,"v":-1.02},{"c":126,"u":2.44,"v":-1.08},
{"c":127,"u":1.98,"v":-1.10},{"c":127,"u":2.20,"v":-1.30},{"c":127,"u":2.44,"v":-1.51},
{"c":128,"u":1.33,"v":-0.71},{"c":128,"u":1.63,"v":-0.89},{"c":128,"u":1.94,"v":-1.18},{"c":128,"u":2.25,"v":-1.55},{"c":128,"u":2.44,"v":-1.79},
{"c":129,"u":1.04,"v":-0.61},{"c":129,"u":1.35,"v":-0.88},{"c":129,"u":1.70,"v":-1.30},{"c":129,"u":2.10,"v":-1.78},{"c":129,"u":2.44,"v":-2.13},
{"c":130,"u":0.64,"v":-0.41},{"c":130,"u":0.95,"v":-0.70},{"c":130,"u":1.35,"v":-1.15},{"c":130,"u":1.85,"v":-1.78},{"c":130,"u":2.39,"v":-2.46},
{"c":131,"u":0.43,"v":-0.33},{"c":131,"u":0.68,"v":-0.58},{"c":131,"u":1.00,"v":-0.98},{"c":131,"u":1.38,"v":-1.48},{"c":131,"u":1.75,"v":-1.96},{"c":131,"u":2.11,"v":-2.46},
{"c":132,"u":0.21,"v":-0.24},{"c":132,"u":0.42,"v":-0.47},{"c":132,"u":0.72,"v":-0.86},{"c":132,"u":1.08,"v":-1.40},{"c":132,"u":1.42,"v":-1.92},{"c":132,"u":1.73,"v":-2.46},
{"c":133,"u":0.08,"v":-0.22},{"c":133,"u":0.25,"v":-0.45},{"c":133,"u":0.50,"v":-0.85},{"c":133,"u":0.80,"v":-1.35},{"c":133,"u":1.10,"v":-1.90},{"c":133,"u":1.38,"v":-2.46},
{"c":134,"u":0.03,"v":-0.45},{"c":134,"u":0.18,"v":-0.75},{"c":134,"u":0.42,"v":-1.25},{"c":134,"u":0.70,"v":-1.80},{"c":134,"u":1.03,"v":-2.46}
],
"RA":[
{"u":2.33,"v":0.4,"a":-3},{"u":2.24,"v":1.2,"a":-12},{"u":2.01,"v":2.0,"a":-17},
{"u":2.00,"v":0.8,"a":-8},{"u":1.81,"v":1.6,"a":-17},
{"u":1.83,"v":0.4,"a":-4},{"u":1.72,"v":1.2,"a":-14},{"u":1.46,"v":2.0,"a":-20},
{"u":1.60,"v":0.8,"a":-9},{"u":1.39,"v":1.6,"a":-19},
{"u":1.43,"v":0.4,"a":-4},{"u":1.31,"v":1.2,"a":-15},{"u":1.03,"v":2.0,"a":-21},
{"u":1.20,"v":0.8,"a":-9},{"u":0.97,"v":1.6,"a":-20},
{"u":1.00,"v":0.4,"a":-5},{"u":0.86,"v":1.2,"a":-17},{"u":0.53,"v":2.0,"a":-25},
{"u":0.71,"v":0.8,"a":-11},{"u":0.44,"v":1.6,"a":-24},
{"u":0.51,"v":0.4,"a":-6},{"u":0.35,"v":1.2,"a":-20},{"u":-0.04,"v":2.0,"a":-28},
{"u":0.28,"v":0.8,"a":-12},{"u":-0.03,"v":1.6,"a":-28},
{"u":0.23,"v":0.4,"a":-7},{"u":0.03,"v":1.2,"a":-23},{"u":-0.42,"v":2.0,"a":-32},
{"u":2.38,"v":1.2,"a":-12},{"u":2.14,"v":2.0,"a":-18},{"u":2.38,"v":2.0,"a":-15},
{"u":-1.93,"v":0.81,"a":-87},{"u":-2.24,"v":0.78,"a":-113},
{"u":-2.18,"v":0.56,"a":-139},{"u":-2.30,"v":0.31,"a":-163},
{"u":-1.38,"v":0.60,"a":-80},{"u":-1.74,"v":0.63,"a":-94},{"u":-2.05,"v":0.21,"a":-177},
{"u":-1.83,"v":0.31,"a":-167},{"u":-1.63,"v":0.28,"a":-164},{"u":-1.38,"v":0.34,"a":-141},
{"u":-0.38,"v":0.18,"a":-66},{"u":-1.04,"v":0.39,"a":-89},{"u":-1.24,"v":0.18,"a":-164},
{"u":-1.01,"v":0.10,"a":-175},{"u":-0.79,"v":0.07,"a":-176},
{"u":-2.33,"v":1.21,"a":-63},{"u":-2.21,"v":1.02,"a":-72},{"u":-2.20,"v":1.30,"a":-48},
{"u":-1.63,"v":0.89,"a":-52},{"u":-2.25,"v":1.55,"a":-39},
{"u":-1.35,"v":0.88,"a":-44},{"u":-2.10,"v":1.78,"a":-42},
{"u":-0.95,"v":0.70,"a":-44},{"u":-1.85,"v":1.78,"a":-38},
{"u":-0.68,"v":0.58,"a":-41},{"u":-1.38,"v":1.48,"a":-37},
{"u":-0.72,"v":0.86,"a":-35},{"u":-1.42,"v":1.92,"a":-32},
{"u":-0.25,"v":0.45,"a":-34},{"u":-0.80,"v":1.35,"a":-30},
{"u":-0.18,"v":0.75,"a":-26},{"u":-0.70,"v":1.80,"a":-27},
{"u":-2.33,"v":-0.4,"a":177},{"u":-2.24,"v":-1.2,"a":168},{"u":-2.01,"v":-2.0,"a":163},
{"u":-2.00,"v":-0.8,"a":172},{"u":-1.81,"v":-1.6,"a":163},
{"u":-1.83,"v":-0.4,"a":176},{"u":-1.72,"v":-1.2,"a":166},{"u":-1.46,"v":-2.0,"a":160},
{"u":-1.60,"v":-0.8,"a":171},{"u":-1.39,"v":-1.6,"a":161},
{"u":-1.43,"v":-0.4,"a":176},{"u":-1.31,"v":-1.2,"a":165},{"u":-1.03,"v":-2.0,"a":159},
{"u":-1.20,"v":-0.8,"a":171},{"u":-0.97,"v":-1.6,"a":160},
{"u":-1.00,"v":-0.4,"a":175},{"u":-0.86,"v":-1.2,"a":163},{"u":-0.53,"v":-2.0,"a":155},
{"u":-0.71,"v":-0.8,"a":169},{"u":-0.44,"v":-1.6,"a":156},
{"u":-0.51,"v":-0.4,"a":174},{"u":-0.35,"v":-1.2,"a":160},{"u":0.04,"v":-2.0,"a":152},
{"u":-0.28,"v":-0.8,"a":168},{"u":0.03,"v":-1.6,"a":152},
{"u":-0.23,"v":-0.4,"a":173},{"u":-0.03,"v":-1.2,"a":157},{"u":0.42,"v":-2.0,"a":148},
{"u":-2.38,"v":-1.2,"a":168},{"u":-2.14,"v":-2.0,"a":162},{"u":-2.38,"v":-2.0,"a":165},
{"u":1.93,"v":-0.81,"a":93},{"u":2.24,"v":-0.78,"a":67},
{"u":2.18,"v":-0.56,"a":41},{"u":2.30,"v":-0.31,"a":17},
{"u":1.38,"v":-0.60,"a":100},{"u":1.74,"v":-0.63,"a":86},{"u":2.05,"v":-0.21,"a":3},
{"u":1.83,"v":-0.31,"a":13},{"u":1.63,"v":-0.28,"a":16},{"u":1.38,"v":-0.34,"a":39},
{"u":0.38,"v":-0.18,"a":114},{"u":1.04,"v":-0.39,"a":91},{"u":1.24,"v":-0.18,"a":16},
{"u":1.01,"v":-0.10,"a":5},{"u":0.79,"v":-0.07,"a":4},
{"u":2.33,"v":-1.21,"a":117},{"u":2.21,"v":-1.02,"a":108},{"u":2.20,"v":-1.30,"a":132},
{"u":1.63,"v":-0.89,"a":128},{"u":2.25,"v":-1.55,"a":141},
{"u":1.35,"v":-0.88,"a":136},{"u":2.10,"v":-1.78,"a":138},
{"u":0.95,"v":-0.70,"a":136},{"u":1.85,"v":-1.78,"a":142},
{"u":0.68,"v":-0.58,"a":139},{"u":1.38,"v":-1.48,"a":143},
{"u":0.72,"v":-0.86,"a":145},{"u":1.42,"v":-1.92,"a":148},
{"u":0.25,"v":-0.45,"a":146},{"u":0.80,"v":-1.35,"a":150},
{"u":0.18,"v":-0.75,"a":154},{"u":0.70,"v":-1.80,"a":153}
]
},
"hconcat":[
{
"width":633,"height":608,
"encoding":{
"x":{"field":"u","type":"quantitative","scale":{"domain":[-2.92,3.41],"nice":false,"zero":false},"axis":null},
"y":{"field":"v","type":"quantitative","scale":{"domain":[-2.87,3.21],"nice":false,"zero":false},"axis":null}
},
"layer":[
{"data":{"values":[{"u":-2.84,"v":0,"u2":2.86,"v2":0},{"u":0,"v":2.86,"u2":0,"v2":-2.84}]},"mark":{"type":"rule","stroke":"#a3a3a3","strokeWidth":1},"encoding":{"x2":{"field":"u2"},"y2":{"field":"v2"}}},
{"data":{"name":"LL"},"mark":{"type":"line","interpolate":"catmull-rom","stroke":"#6a6a6a","strokeWidth":1.1},"encoding":{"detail":{"field":"c","type":"nominal"},"order":{"value":null}}},
{"data":{"name":"LA"},"mark":{"type":"point","shape":"M0,-1L0.7,1L-0.7,1Z","filled":true,"color":"#5a5a5a","size":110,"opacity":1},"encoding":{"angle":{"field":"a","type":"quantitative","scale":null}}},
{"data":{"values":[{"u":-1.88,"v":-0.45,"u2":-0.58,"v2":-1.01}]},"mark":{"type":"rect","fill":"white","stroke":"black","strokeWidth":1.8},"encoding":{"x2":{"field":"u2"},"y2":{"field":"v2"}}},
{"data":{"values":[{"u":-1.23,"v":-0.73,"t":"(πₛₛ, xₛₛ)"}]},"mark":{"type":"text","font":"DejaVu Serif","fontSize":25,"fontStyle":"italic","color":"black","align":"center","baseline":"middle"},"encoding":{"text":{"field":"t"}}},
{"data":{"values":[{"u":-0.70,"v":-0.42,"u2":-0.19,"v2":-0.13}]},"mark":{"type":"rule","stroke":"black","strokeWidth":1.3},"encoding":{"x2":{"field":"u2"},"y2":{"field":"v2"}}},
{"data":{"values":[{"u":-0.115,"v":-0.09}]},"mark":{"type":"point","shape":"M0,-1L0.55,1L0,0.65L-0.55,1Z","filled":true,"color":"black","size":324,"angle":61,"opacity":1}},
{"data":{"values":[{"u":0,"v":0}]},"mark":{"type":"circle","color":"#ff0000","size":150,"opacity":1}},
{"data":{"values":[{"u":0,"v":2.98,"t":"x"}]},"mark":{"type":"text","font":"DejaVu Serif","fontSize":23,"fontStyle":"italic","color":"#8a8a8a","align":"center","baseline":"alphabetic"},"encoding":{"text":{"field":"t"}}},
{"data":{"values":[{"u":3.05,"v":-0.11,"t":"π"}]},"mark":{"type":"text","font":"DejaVu Serif","fontSize":25,"fontStyle":"italic","color":"#8a8a8a","align":"center","baseline":"alphabetic"},"encoding":{"text":{"field":"t"}}}
]
},
{
"width":633,"height":608,
"encoding":{
"x":{"field":"u","type":"quantitative","scale":{"domain":[-3.08,3.25],"nice":false,"zero":false},"axis":null},
"y":{"field":"v","type":"quantitative","scale":{"domain":[-2.87,3.21],"nice":false,"zero":false},"axis":null}
},
"layer":[
{"data":{"values":[{"u":-2.84,"v":0,"u2":2.86,"v2":0},{"u":0,"v":2.86,"u2":0,"v2":-2.84}]},"mark":{"type":"rule","stroke":"#a3a3a3","strokeWidth":1},"encoding":{"x2":{"field":"u2"},"y2":{"field":"v2"}}},
{"data":{"name":"RL"},"mark":{"type":"line","interpolate":"catmull-rom","stroke":"#6a6a6a","strokeWidth":1.1},"encoding":{"detail":{"field":"c","type":"nominal"},"order":{"value":null}}},
{"data":{"name":"RA"},"mark":{"type":"point","shape":"M0,-1L0.7,1L-0.7,1Z","filled":true,"color":"#5a5a5a","size":110,"opacity":1},"encoding":{"angle":{"field":"a","type":"quantitative","scale":null}}},
{"data":{"values":[{"u":-1.89,"v":-0.45,"u2":-0.57,"v2":-1.01}]},"mark":{"type":"rect","fill":"white","stroke":"black","strokeWidth":1.8},"encoding":{"x2":{"field":"u2"},"y2":{"field":"v2"}}},
{"data":{"values":[{"u":-1.23,"v":-0.73,"t":"(πₛₛ, xₛₛ)"}]},"mark":{"type":"text","font":"DejaVu Serif","fontSize":25,"fontStyle":"italic","color":"black","align":"center","baseline":"middle"},"encoding":{"text":{"field":"t"}}},
{"data":{"values":[{"u":-0.71,"v":-0.41,"u2":-0.19,"v2":-0.13}]},"mark":{"type":"rule","stroke":"black","strokeWidth":1.3},"encoding":{"x2":{"field":"u2"},"y2":{"field":"v2"}}},
{"data":{"values":[{"u":-0.115,"v":-0.09}]},"mark":{"type":"point","shape":"M0,-1L0.55,1L0,0.65L-0.55,1Z","filled":true,"color":"black","size":324,"angle":61,"opacity":1}},
{"data":{"values":[{"u":0,"v":0}]},"mark":{"type":"circle","color":"#ff0000","size":150,"opacity":1}},
{"data":{"values":[{"u":0,"v":2.98,"t":"x"}]},"mark":{"type":"text","font":"DejaVu Serif","fontSize":23,"fontStyle":"italic","color":"#8a8a8a","align":"center","baseline":"alphabetic"},"encoding":{"text":{"field":"t"}}},
{"data":{"values":[{"u":3.04,"v":-0.11,"t":"π"}]},"mark":{"type":"text","font":"DejaVu Serif","fontSize":25,"fontStyle":"italic","color":"#8a8a8a","align":"center","baseline":"alphabetic"},"encoding":{"text":{"field":"t"}}}
]
}
]
}
